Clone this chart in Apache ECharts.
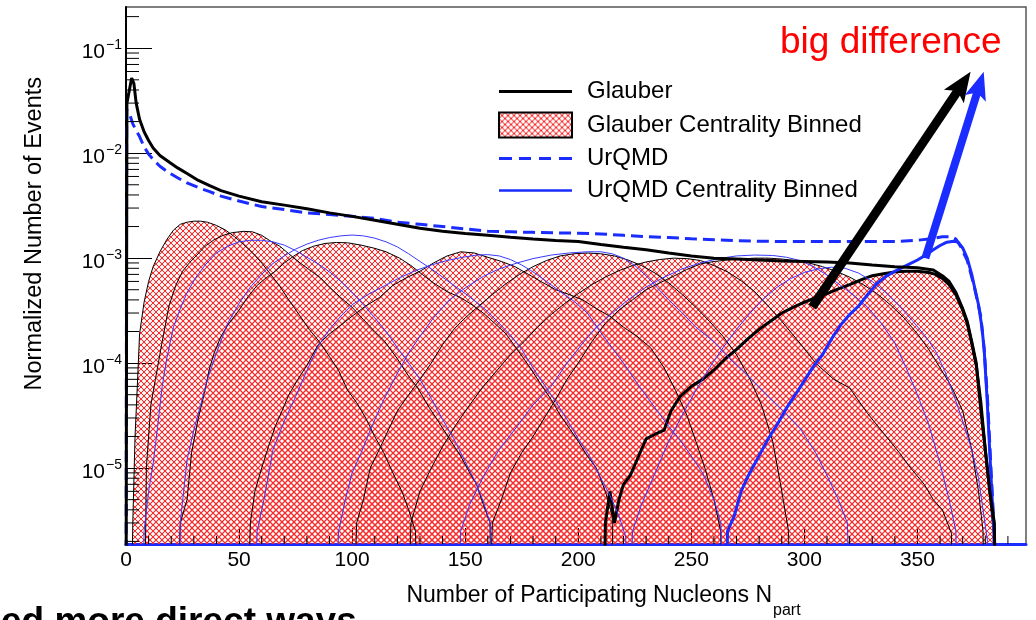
<!DOCTYPE html>
<html><head><meta charset="utf-8">
<script src="https://cdn.jsdelivr.net/npm/echarts@6/dist/echarts.min.js"></script>
<style>html,body{margin:0;padding:0;background:#fff}#c{width:1036px;height:620px}</style>
</head><body><div id="c"></div>
<script>
// ---------------- data ----------------
const xTickLabels = ['0','50','100','150','200','250','300','350'];
const yDecadeExponents = [-5,-4,-3,-2,-1];
const xRange = [0, 398];
const yRange = [1.89e-6, 0.247];

const glauberTotal = [[0,1e-7],[0.4,0.03],[1.5,0.04],[2.5,0.052],[3.5,0.046],[4.5,0.03],[6,0.021],[8,0.016],[10,0.0132],[12,0.0112],[15,0.0095],[19.5,0.0081],[23,0.0072],[27,0.0064],[32,0.0055],[37,0.0049],[42,0.0044],[50,0.0039],[60,0.00345],[70,0.0032],[80,0.00295],[90,0.0027],[100,0.0025],[110,0.0023],[120,0.0021],[130,0.00193],[140,0.0018],[150,0.00172],[160,0.00165],[170,0.00158],[180,0.00152],[190,0.00147],[200,0.00144],[210,0.00135],[220,0.00127],[230,0.0012],[240,0.00112],[250,0.00105],[260,0.001],[270,0.00098],[280,0.00096],[290,0.00094],[300,0.00093],[310,0.00092],[320,0.0009],[330,0.00086],[340,0.00083],[350,0.00081],[357,0.00077],[361,0.00068],[364,0.0006],[367,0.00047],[370,0.00033],[372,0.00025],[374,0.00016],[376,0.0001],[378,0.000036],[380,0.000015],[382,0.000006],[384,0.000003],[385,1e-7]];

const urqmdTotal = [[0,1e-7],[0.3,0.026],[1.5,0.024],[3,0.019],[4.5,0.0165],[6,0.0144],[8,0.0115],[10,0.0098],[12,0.0087],[15,0.0075],[19,0.0065],[23,0.0058],[27,0.0052],[32,0.0047],[37,0.0043],[42,0.0039],[50,0.0035],[60,0.0031],[70,0.0029],[80,0.0027],[90,0.0026],[100,0.0025],[110,0.0024],[120,0.0022],[130,0.0021],[140,0.002],[150,0.0019],[160,0.0018],[170,0.00178],[180,0.00176],[190,0.00174],[200,0.00173],[210,0.0017],[220,0.00165],[230,0.0016],[240,0.00157],[250,0.00153],[260,0.0015],[270,0.00147],[280,0.00145],[290,0.00144],[300,0.00144],[310,0.00144],[320,0.00144],[330,0.00144],[340,0.00144],[350,0.00148],[356,0.00153],[361,0.0016],[365,0.0016],[367,0.00152],[369,0.0013],[372,0.00095],[375,0.00055],[378,0.00028],[379.5,0.000135],[381,0.000045],[382.5,0.00001],[384,0.0000024],[385,1e-7]];

const glauberBin1 = [[2,1e-7],[3,3e-6],[4,2e-5],[5,6e-5],[6,1.9e-4],[8,3.8e-4],[10,6e-4],[12,8.3e-4],[15,1.15e-3],[18,1.5e-3],[21,1.85e-3],[24,2.1e-3],[27,2.2e-3],[30,2.25e-3],[33,2.25e-3],[36,2.2e-3],[40,2.05e-3],[44,1.85e-3],[48,1.6e-3],[52,1.35e-3],[56,1.12e-3],[60,9e-4],[64,7e-4],[68,5.4e-4],[72,4e-4],[77,2.8e-4],[81,2.1e-4],[86,1.55e-4],[90,1.15e-4],[94,8.5e-5],[98,5.5e-5],[102,4.2e-5],[106,3e-5],[110,2e-5],[114,1.4e-5],[118,9e-6],[122,6e-6],[125,4e-6],[128,2.5e-6],[130,1e-7]];
const glauberBin2 = [[8,1e-7],[9,1e-5],[11,4e-5],[13,7e-5],[16,1.6e-4],[19,3.5e-4],[22,5.5e-4],[25,7.5e-4],[28,9e-4],[31,1.05e-3],[35,1.3e-3],[39,1.5e-3],[43,1.65e-3],[47,1.75e-3],[52,1.8e-3],[56,1.78e-3],[60,1.65e-3],[64,1.45e-3],[68,1.3e-3],[72,1.1e-3],[77,9e-4],[82,7.5e-4],[86,6.5e-4],[90,5.3e-4],[95,4.2e-4],[100,3.4e-4],[105,2.6e-4],[110,2e-4],[114,1.65e-4],[120,1.1e-4],[125,7.5e-5],[129,5.8e-5],[134,3.8e-5],[139,2.6e-5],[143,1.9e-5],[148,1.3e-5],[152,9e-6],[155,7e-6],[158,4.5e-6],[161,3e-6],[162,1e-7]];
const glauberBin3 = [[22,1e-7],[24,3e-6],[27,5e-6],[29,1.4e-5],[32,3e-5],[34,4.5e-5],[37,9e-5],[39,1.25e-4],[42,1.8e-4],[45,2.3e-4],[50,3.2e-4],[54,4.3e-4],[58,5.5e-4],[62,6.5e-4],[66,7.5e-4],[70,9e-4],[74,1.04e-3],[78,1.18e-3],[83,1.3e-3],[88,1.38e-3],[93,1.41e-3],[98,1.4e-3],[104,1.33e-3],[110,1.24e-3],[115,1.15e-3],[121,1.0e-3],[126,8.5e-4],[131,7e-4],[136,5.8e-4],[142,4.8e-4],[148,4.2e-4],[153,3.6e-4],[158,3.0e-4],[163,2.4e-4],[168,1.9e-4],[173,1.35e-4],[178,9.5e-5],[183,6.5e-5],[188,4.5e-5],[192,3.2e-5],[196,2.4e-5],[200,1.8e-5],[204,1.3e-5],[208,1e-5],[212,6e-6],[215,3.5e-6],[216,1e-7]];
const glauberBin4 = [[53,1e-7],[55,3e-6],[57,6e-6],[60,1e-5],[63,1.6e-5],[66,2.5e-5],[69,3.5e-5],[72,5e-5],[76,7e-5],[80,9.5e-5],[85,1.5e-4],[90,1.9e-4],[95,2.3e-4],[100,2.8e-4],[106,3.5e-4],[112,4.2e-4],[118,5.5e-4],[124,6.5e-4],[130,7.5e-4],[136,9e-4],[142,1.05e-3],[148,1.15e-3],[154,1.12e-3],[160,1.02e-3],[166,9.3e-4],[172,8.3e-4],[178,7e-4],[184,5.9e-4],[190,5e-4],[196,4.5e-4],[202,4e-4],[208,3.3e-4],[214,2.8e-4],[220,2.2e-4],[226,1.8e-4],[232,1.4e-4],[238,9e-5],[243,5.5e-5],[248,3.2e-5],[252,1.8e-5],[256,1e-5],[260,5e-6],[263,2.5e-6],[264,1e-7]];
const glauberBin5 = [[100,1e-7],[102,3e-6],[105,5e-6],[108,1e-5],[112,1.5e-5],[116,2.3e-5],[120,3.5e-5],[125,5e-5],[130,7e-5],[135,1e-4],[140,1.5e-4],[145,2.1e-4],[150,2.7e-4],[156,3.5e-4],[162,4.5e-4],[168,5.7e-4],[174,7e-4],[180,8.3e-4],[186,9.5e-4],[192,1.05e-3],[198,1.1e-3],[204,1.12e-3],[210,1.1e-3],[216,1.05e-3],[222,9.6e-4],[228,8.5e-4],[234,7.2e-4],[240,5.8e-4],[246,4.5e-4],[252,3.4e-4],[258,2.5e-4],[264,1.8e-4],[270,1.2e-4],[276,7e-5],[281,4e-5],[286,1.8e-5],[290,6e-6],[293,2.5e-6],[294,1e-7]];
const glauberBin6 = [[124,1e-7],[126,3e-6],[130,6e-6],[135,1e-5],[140,1.6e-5],[146,2.6e-5],[152,4e-5],[158,6e-5],[164,8.5e-5],[170,1.2e-4],[176,1.6e-4],[182,2.2e-4],[188,2.9e-4],[194,3.7e-4],[200,4.6e-4],[206,5.6e-4],[212,6.6e-4],[218,7.6e-4],[224,8.5e-4],[230,9.2e-4],[236,9.7e-4],[242,1.0e-3],[248,9.9e-4],[254,9.5e-4],[260,8.5e-4],[266,7.4e-4],[272,6.1e-4],[278,4.8e-4],[284,3.5e-4],[290,2.5e-4],[298,1.55e-4],[305,1e-4],[313,7e-5],[320,5.8e-5],[328,3.3e-5],[335,2.15e-5],[342,1.4e-5],[347,1e-5],[353,7e-6],[357,5e-6],[361,4e-6],[365,2.4e-6],[366,1e-7]];
const glauberBin7 = [[160,1e-7],[162,3e-6],[166,5e-6],[170,9e-6],[175,1.4e-5],[180,2e-5],[185,3e-5],[190,4.5e-5],[195,7e-5],[200,1e-4],[206,1.6e-4],[212,2.4e-4],[218,3.2e-4],[224,4e-4],[230,5e-4],[236,5.8e-4],[242,6.7e-4],[248,7.8e-4],[254,8.8e-4],[260,9.3e-4],[266,9.6e-4],[272,9.8e-4],[278,1e-3],[284,1e-3],[290,9.8e-4],[296,9.5e-4],[302,9e-4],[308,8.3e-4],[314,7.5e-4],[320,6.6e-4],[326,5.6e-4],[332,4.6e-4],[338,3.6e-4],[344,2.7e-4],[350,1.9e-4],[355,1.35e-4],[360,9e-5],[365,6e-5],[370,3.5e-5],[374,1.5e-5],[377,6e-6],[379,2.5e-6],[380,1e-7]];
const glauberBin8 = [[211,1e-7],[212,3e-6],[214,6e-6],[216,3e-6],[218,5e-6],[220,7e-6],[223,8.5e-6],[226,1.2e-5],[230,1.9e-5],[234,2.1e-5],[238,2.3e-5],[241,3.5e-5],[245,4.8e-5],[250,6e-5],[255,7e-5],[260,8.6e-5],[265,1.1e-4],[270,1.35e-4],[275,1.7e-4],[280,2.1e-4],[285,2.5e-4],[290,3e-4],[295,3.4e-4],[300,3.8e-4],[305,4.2e-4],[310,4.6e-4],[315,5.1e-4],[320,5.6e-4],[325,6.2e-4],[330,6.8e-4],[335,7.1e-4],[340,7.4e-4],[345,7.5e-4],[350,7.5e-4],[355,7.3e-4],[358,7e-4],[361,6.4e-4],[364,5.6e-4],[367,4.5e-4],[370,3.2e-4],[372,2.4e-4],[374,1.55e-4],[376,9.5e-5],[378,4.3e-5],[380,1.5e-5],[382,6e-6],[384,2.5e-6],[385,1e-7]];

const urqmdBin1 = [[7,1e-7],[8,2.5e-6],[10,6e-6],[12,1.1e-5],[14,2.5e-5],[16,6e-5],[18,1.1e-4],[21,2.2e-4],[24,3.3e-4],[27,4.7e-4],[31,6.6e-4],[35,8.6e-4],[40,1.12e-3],[45,1.3e-3],[50,1.43e-3],[55,1.48e-3],[60,1.48e-3],[65,1.43e-3],[70,1.33e-3],[75,1.18e-3],[80,1.02e-3],[85,8.8e-4],[90,7.4e-4],[95,6e-4],[100,4.7e-4],[105,3.6e-4],[110,2.7e-4],[115,2e-4],[120,1.4e-4],[125,1e-4],[130,7e-5],[135,4.6e-5],[140,2.9e-5],[145,1.9e-5],[150,1.15e-5],[155,7e-6],[158,4.8e-6],[161,3e-6],[162,1e-7]];
const urqmdBin2 = [[23,1e-7],[24,3e-6],[27,1.2e-5],[30,2.3e-5],[33,4e-5],[36,7e-5],[40,1.25e-4],[45,2.4e-4],[50,3.7e-4],[55,5.3e-4],[60,7e-4],[65,8.9e-4],[70,1.05e-3],[75,1.22e-3],[80,1.36e-3],[85,1.48e-3],[90,1.57e-3],[95,1.63e-3],[100,1.66e-3],[105,1.63e-3],[110,1.55e-3],[115,1.43e-3],[120,1.28e-3],[125,1.1e-3],[130,9.3e-4],[135,7.9e-4],[140,6.6e-4],[145,5.5e-4],[150,4.6e-4],[155,3.8e-4],[160,3.1e-4],[165,2.4e-4],[170,1.85e-4],[175,1.35e-4],[180,9e-5],[185,6.2e-5],[190,4.3e-5],[195,2.9e-5],[200,1.9e-5],[205,1.3e-5],[210,8e-6],[214,5.5e-6],[218,3.5e-6],[221,2.2e-6],[222,1e-7]];
const urqmdBin3 = [[56,1e-7],[58,2.5e-6],[61,5e-6],[65,1.5e-5],[70,2.8e-5],[75,4.8e-5],[80,8.5e-5],[85,1.45e-4],[90,2.1e-4],[95,2.8e-4],[100,3.6e-4],[107,4.5e-4],[114,5.4e-4],[121,6.5e-4],[128,7.6e-4],[135,8.6e-4],[142,9.5e-4],[149,1.02e-3],[155,1.07e-3],[160,1.08e-3],[165,1.05e-3],[170,9.7e-4],[175,8.6e-4],[180,7.4e-4],[186,6e-4],[192,4.8e-4],[198,3.9e-4],[204,3e-4],[210,1.95e-4],[215,1.4e-4],[220,1e-4],[227,6e-5],[233,4e-5],[240,2.5e-5],[245,1.85e-5],[250,1.3e-5],[255,9e-6],[260,5e-6],[263,3e-6],[265,1e-7]];
const urqmdBin4 = [[92,1e-7],[94,2.5e-6],[97,5e-6],[100,9e-6],[104,1.4e-5],[108,2.3e-5],[114,4.5e-5],[120,8e-5],[125,1.25e-4],[130,1.8e-4],[136,2.7e-4],[143,4e-4],[150,5.2e-4],[158,6.7e-4],[165,7.9e-4],[173,9e-4],[180,9.9e-4],[188,1.07e-3],[196,1.12e-3],[204,1.15e-3],[210,1.15e-3],[215,1.1e-3],[220,1e-3],[225,8.5e-4],[230,6.8e-4],[235,5.2e-4],[240,4e-4],[246,3e-4],[252,2.2e-4],[260,1.6e-4],[267,1.1e-4],[274,8e-5],[282,5.3e-5],[290,3.6e-5],[298,2.4e-5],[305,1.4e-5],[310,8.5e-6],[315,5e-6],[319,3e-6],[321,1e-7]];
const urqmdBin5 = [[146,1e-7],[148,2.5e-6],[152,4.5e-6],[158,8.3e-6],[165,1.5e-5],[173,2.5e-5],[180,4e-5],[188,6e-5],[195,1e-4],[202,1.55e-4],[208,2.2e-4],[215,3e-4],[222,4e-4],[230,5.3e-4],[238,6.6e-4],[246,7.9e-4],[254,9e-4],[262,9.9e-4],[270,1.05e-3],[278,1.07e-3],[286,1.06e-3],[292,1.02e-3],[298,9.5e-4],[304,8.3e-4],[310,6.9e-4],[316,5.5e-4],[322,4.4e-4],[328,3.4e-4],[334,2.4e-4],[340,1.55e-4],[345,9e-5],[350,5e-5],[355,2.6e-5],[360,1.1e-5],[364,5e-6],[367,2.5e-6],[368,1e-7]];
const urqmdBin6 = [[222,1e-7],[224,2.5e-6],[228,4.5e-6],[234,9e-6],[240,1.8e-5],[246,3.2e-5],[252,5.5e-5],[258,9e-5],[264,1.4e-4],[270,2.1e-4],[276,3e-4],[282,4.1e-4],[288,5.3e-4],[294,6.4e-4],[300,7.3e-4],[306,7.9e-4],[312,8.2e-4],[318,8e-4],[324,7.2e-4],[330,6e-4],[336,4.7e-4],[342,3.5e-4],[348,2.5e-4],[354,1.75e-4],[358,1.3e-4],[362,8.5e-5],[366,5e-5],[370,2.8e-5],[374,1.5e-5],[377,8e-6],[379,4e-6],[381,2e-6],[382,1e-7]];
const urqmdBin7 = [[265,1e-7],[266,2.5e-6],[269,3.5e-6],[272,6e-6],[275,8.3e-6],[279,1.2e-5],[284,1.9e-5],[288,2.6e-5],[292,3.7e-5],[296,5e-5],[300,6.8e-5],[304,9.3e-5],[308,1.2e-4],[312,1.7e-4],[316,2.3e-4],[320,2.9e-4],[324,3.5e-4],[328,4.5e-4],[332,5.7e-4],[336,6.7e-4],[341,7.7e-4],[345,8.5e-4],[350,9.6e-4],[354,1.08e-3],[357,1.2e-3],[360,1.32e-3],[363,1.42e-3],[366,1.45e-3],[368,1.42e-3],[370,1.25e-3],[372,1.0e-3],[374,7e-4],[375.5,5e-4],[377,3.6e-4],[378.5,2.2e-4],[379.5,1.35e-4],[380.8,4.5e-5],[382.3,1.04e-5],[383.8,2.4e-6],[385,1e-7]];

// annotation arrows (data coordinates: tail N, tail value, tip N, tip value)
const annotationArrows = [[303.5, 3.43e-4, 373.5, 0.0598], [353.5, 1.0e-3, 379.3, 0.0598]];

// ---------------- styling ----------------
const FONT = 'Liberation Sans, Arial, Helvetica, sans-serif';
const BLUE = '#1a2cff';
const THIN_BLUE = '#3a3aff';
const arrowStyles = [{ color: '#000', width: 9, L: 30, W: 12 }, { color: BLUE, width: 8, L: 28, W: 11 }];

function makeHatch() {
  const p = 6;
  const c = document.createElement('canvas'); c.width = p; c.height = p;
  const ctx = c.getContext('2d');
  const img = ctx.createImageData(p, p);
  const a = new Array(p * p).fill(0);
  const put = (x, y, v) => { x = (x + p) % p; y = (y + p) % p; const k = y * p + x; a[k] = Math.max(a[k], v); };
  for (let i = 0; i < p; i++) {
    for (const j of [i, p - 1 - i]) {
      put(i, j, 1);
      put(i, j + 1, 0.15);
      put(i, j - 1, 0.15);
    }
  }
  for (let k = 0; k < p * p; k++) {
    img.data[4*k] = 245; img.data[4*k+1] = 45; img.data[4*k+2] = 45; img.data[4*k+3] = Math.round(255 * a[k]);
  }
  ctx.putImageData(img, 0, 0);
  return c;
}
const hatch = makeHatch();
const hatchFill = { image: hatch, repeat: 'repeat' };

const glauberBins = [glauberBin1, glauberBin2, glauberBin3, glauberBin4, glauberBin5, glauberBin6, glauberBin7, glauberBin8];
const urqmdBins = [urqmdBin1, urqmdBin2, urqmdBin3, urqmdBin4, urqmdBin5, urqmdBin6, urqmdBin7];

const series = [];
glauberBins.forEach((d, i) => {
  const last = i === glauberBins.length - 1;
  series.push({
    name: 'Glauber Centrality Binned', type: 'line', data: d, symbol: 'none', silent: true,
    lineStyle: { color: '#000', width: last ? 3 : 1 },
    itemStyle: { color: '#000' },
    areaStyle: { color: hatchFill, opacity: 1, origin: 'start' },
    z: 2
  });
});
urqmdBins.forEach((d, i) => {
  const last = i === urqmdBins.length - 1;
  series.push({
    name: 'UrQMD Centrality Binned', type: 'line', data: d, symbol: 'none', silent: true,
    lineStyle: { color: last ? BLUE : THIN_BLUE, width: last ? 3 : 1 },
    itemStyle: { color: BLUE },
    z: 3
  });
});
series.push({
  name: 'UrQMD', type: 'line', data: urqmdTotal, symbol: 'none', silent: true,
  lineStyle: { color: BLUE, width: 3, type: [12, 6] }, itemStyle: { color: BLUE }, z: 4
});
series.push({
  name: 'Glauber', type: 'line', data: glauberTotal, symbol: 'none', silent: true,
  lineStyle: { color: '#000', width: 3 }, itemStyle: { color: '#000' }, z: 4
});
// annotation arrows drawn through the axes' scales
series.push({
  type: 'custom', coordinateSystem: 'cartesian2d', data: annotationArrows, silent: true, z: 8, clip: false,
  encode: { x: [0, 2], y: [1, 3] },
  renderItem: (params, api) => {
    const s = arrowStyles[params.dataIndex];
    const a = api.coord([api.value(0), api.value(1)]);
    const b = api.coord([api.value(2), api.value(3)]);
    const dx = b[0] - a[0], dy = b[1] - a[1], len = Math.hypot(dx, dy);
    const ux = dx / len, uy = dy / len, nx = -uy, ny = ux;
    const base = [b[0] - ux * s.L, b[1] - uy * s.L];
    const notch = [b[0] - ux * s.L * 0.78, b[1] - uy * s.L * 0.78];
    return { type: 'group', children: [
      { type: 'line', shape: { x1: a[0], y1: a[1], x2: notch[0] + ux * 2, y2: notch[1] + uy * 2 }, style: { stroke: s.color, lineWidth: s.width } },
      { type: 'polygon', shape: { points: [b, [base[0] + nx * s.W, base[1] + ny * s.W], notch, [base[0] - nx * s.W, base[1] - ny * s.W]] }, style: { fill: s.color } }
    ] };
  }
});
// ROOT-style minor ticks (axis decoration) on log y-axis and linear x-axis
const yMinorTicks = [];
for (let e = -6; e <= -1; e++) for (let m = 2; m <= 9; m++) {
  const v = m * Math.pow(10, e);
  if (v >= yRange[0] && v <= yRange[1]) yMinorTicks.push([0, v]);
}
const xMinorTicks = [];
for (let n = 10; n < xRange[1]; n += 10) if (n % 50 !== 0) xMinorTicks.push([n, yRange[0]]);
series.push({
  type: 'custom', coordinateSystem: 'cartesian2d', data: yMinorTicks, silent: true, z: 7, clip: false,
  renderItem: (params, api) => {
    const p = api.coord([api.value(0), api.value(1)]);
    return { type: 'line', shape: { x1: p[0], y1: p[1], x2: p[0] + 13, y2: p[1] }, style: { stroke: '#000', lineWidth: 1 } };
  }
});
series.push({
  type: 'custom', coordinateSystem: 'cartesian2d', data: xMinorTicks, silent: true, z: 7, clip: false,
  renderItem: (params, api) => {
    const p = api.coord([api.value(0), api.value(1)]);
    return { type: 'line', shape: { x1: p[0], y1: p[1], x2: p[0], y2: p[1] - 8 }, style: { stroke: '#000', lineWidth: 1 } };
  }
});

const chart = echarts.init(document.getElementById('c'), null, { renderer: 'canvas' });
chart.setOption({
  animation: false,
  backgroundColor: '#fff',
  textStyle: { fontFamily: FONT },
  grid: { left: 126, right: 10, top: 7, bottom: 76, show: true, borderColor: '#555', borderWidth: 1.5, backgroundColor: 'transparent' },
  legend: {
    left: 498, top: 79.5, orient: 'vertical', padding: 0, itemGap: 8, itemWidth: 73, itemHeight: 25,
    selectedMode: false,
    textStyle: { fontSize: 24, color: '#000', fontFamily: FONT, padding: [0, 0, 0, 10] },
    data: [
      { name: 'Glauber', icon: 'path://M0,0H73V3H0Z', itemStyle: { color: '#000' } },
      { name: 'Glauber Centrality Binned', icon: 'rect', itemStyle: { color: hatchFill, borderColor: '#000', borderWidth: 2 } },
      { name: 'UrQMD', icon: 'path://M0,0H13V3H0Z M20,0H32V3H20Z M40,0H52V3H40Z M60,0H73V3H60Z', itemStyle: { color: BLUE } },
      { name: 'UrQMD Centrality Binned', icon: 'path://M0,0H73V2.6H0Z', itemStyle: { color: BLUE } }
    ]
  },
  xAxis: {
    type: 'value', min: xRange[0], max: xRange[1], interval: 50,
    axisLine: { show: true, lineStyle: { color: BLUE, width: 3 } },
    axisTick: { show: true, inside: true, length: 16, lineStyle: { color: '#000', width: 1 } },
    minorTick: { show: false },
    splitLine: { show: false },
    axisLabel: {
      color: '#000', fontSize: 21, fontFamily: FONT, margin: 6, showMaxLabel: false,
      formatter: (v) => { const s = String(Math.round(v)); return xTickLabels.indexOf(s) >= 0 && Math.abs(v - Math.round(v)) < 1e-6 ? s : ''; }
    }
  },
  yAxis: {
    type: 'log', logBase: 10, min: yRange[0], max: yRange[1],
    axisLine: { show: true, lineStyle: { color: '#000', width: 2 } },
    axisTick: { show: true, inside: true, length: 26, lineStyle: { color: '#000', width: 1 } },
    splitLine: { show: false },
    axisLabel: {
      color: '#000', fontFamily: FONT, margin: 4, showMinLabel: false, showMaxLabel: false,
      formatter: (v) => {
        const e = Math.log10(v); const r = Math.round(e);
        if (Math.abs(e - r) > 0.01 || yDecadeExponents.indexOf(r) < 0) return '';
        return '{b|10}{e|\u2212' + (-r) + '}';
      },
      rich: {
        b: { fontSize: 21, fontFamily: FONT, color: '#000', lineHeight: 24, padding: [8, 0, 0, 0] },
        e: { fontSize: 14, fontFamily: FONT, color: '#000', lineHeight: 24, padding: [0, 0, 6, 1] }
      }
    }
  },
  graphic: [
    { type: 'text', x: 35, y: 77, rotation: Math.PI / 2, silent: true,
      style: { text: 'Normalized Number of Events', font: '23.5px ' + FONT, fill: '#000', align: 'right', verticalAlign: 'middle' } },
    { type: 'text', x: 772, y: 596, silent: true,
      style: { text: 'Number of Participating Nucleons N', font: '23px ' + FONT, fill: '#000', align: 'right', verticalAlign: 'middle' } },
    { type: 'text', x: 773, y: 611, silent: true,
      style: { text: 'part', font: '16px ' + FONT, fill: '#000', align: 'left', verticalAlign: 'middle' } },
    { type: 'text', x: 780, y: 43, silent: true,
      style: { text: 'big difference', font: '37px ' + FONT, fill: '#ff0000', align: 'left', verticalAlign: 'middle' } },
    { type: 'text', x: 1, y: 641, silent: true,
      style: { text: 'ed more direct ways', font: 'bold 37px ' + FONT, fill: '#000', align: 'left', verticalAlign: 'bottom' } }
  ],
  series: series
});
</script>
</body></html>
